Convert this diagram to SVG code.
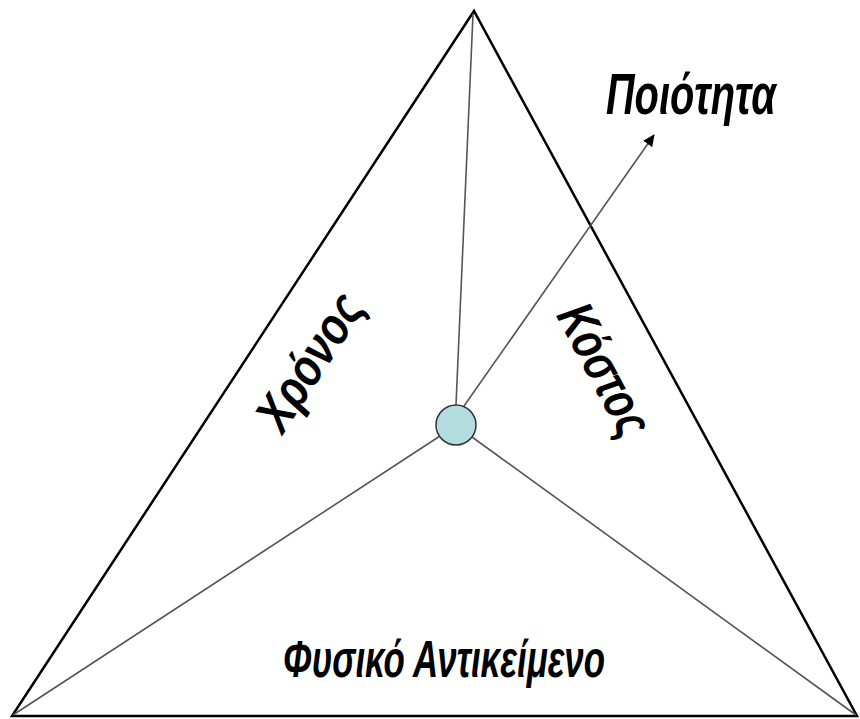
<svg xmlns="http://www.w3.org/2000/svg" width="860" height="719" viewBox="0 0 860 719">
<style>
.edge{stroke:#000;stroke-width:2.5;fill:none;stroke-linejoin:miter}
.spoke{stroke:#555;stroke-width:1.6;fill:none}
.lbl{font-family:"Liberation Sans",Arial,sans-serif;font-style:italic;font-weight:bold;fill:#000}
</style>
<defs>
<marker id="ah" markerWidth="12" markerHeight="12" refX="11" refY="6" orient="auto" markerUnits="userSpaceOnUse" viewBox="0 0 12 12">
<path d="M0,0.5 L12,6 L0,11.5 z" fill="#000"/>
</marker>
</defs>
<g id="triangle">
<path class="edge" d="M474,11 L12,716 L857,716 Z"/>
</g>
<g id="connectors">
<line class="spoke" x1="473" y1="14" x2="456" y2="405"/>
<line class="spoke" x1="440" y1="436" x2="13" y2="715"/>
<line class="spoke" x1="472" y1="437" x2="856" y2="715"/>
<line class="spoke" x1="464" y1="406" x2="654" y2="135" stroke="#111" marker-end="url(#ah)"/>
</g>
<g id="center">
<circle cx="456" cy="425" r="20" fill="#B3DCDF" stroke="#333" stroke-width="1.5"/>
</g>
<g id="quality">
<text class="lbl" x="606" y="114" font-size="58" textLength="170" lengthAdjust="spacingAndGlyphs">Ποιότητα</text>
</g>
<g id="time">
<text class="lbl" transform="translate(310,362) rotate(-57)" x="0" y="17" font-size="52" text-anchor="middle" textLength="152" lengthAdjust="spacingAndGlyphs">Χρόνος</text>
</g>
<g id="cost">
<text class="lbl" transform="translate(604,370) rotate(62)" x="0" y="17" font-size="52" text-anchor="middle" textLength="142" lengthAdjust="spacingAndGlyphs">Κόστος</text>
</g>
<g id="object">
<text class="lbl" x="283" y="677" font-size="52" textLength="322" lengthAdjust="spacingAndGlyphs">Φυσικό Αντικείμενο</text>
</g>
</svg>
